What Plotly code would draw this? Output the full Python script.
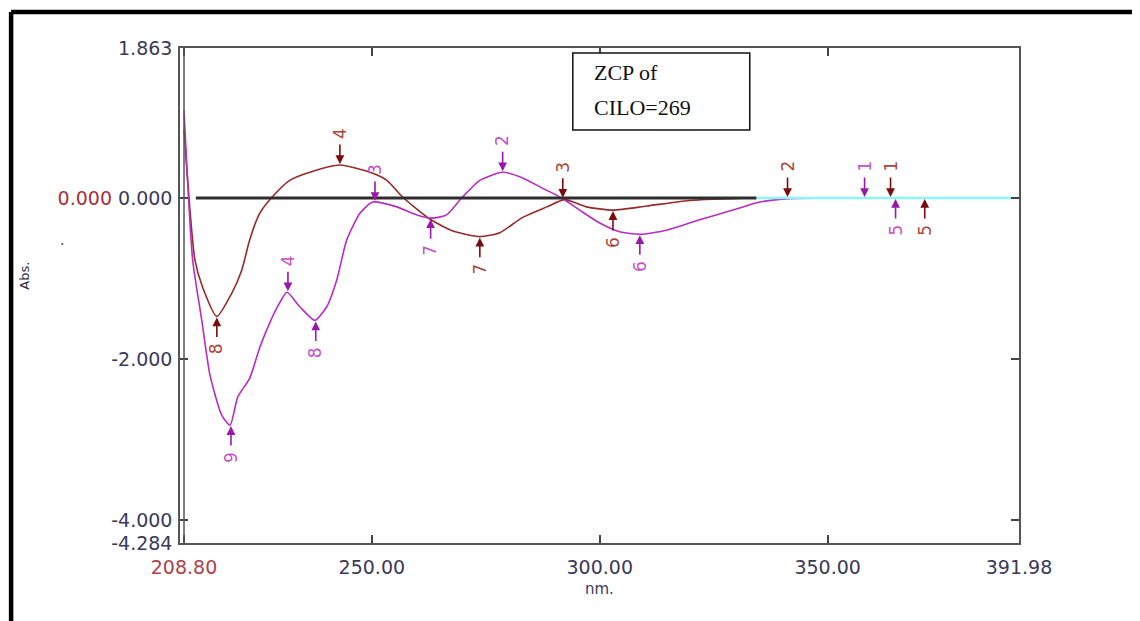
import plotly.graph_objects as go

# ---------------- data ----------------
brown_nm = [208.8, 211.2, 212.9, 216.0, 219.3, 221.5, 223.2, 225.4, 228.1, 232.0, 236.4,
            243.0, 249.6, 253.3, 256.8, 262.7, 267.8, 273.7, 278.1, 283.1, 288.4, 292.3,
            297.1, 302.9, 310.3, 319.7, 334.4]
brown_abs = [0.85, -0.77, -1.11, -1.47, -1.18, -0.89, -0.52, -0.19, 0.01, 0.22, 0.32,
             0.41, 0.32, 0.22, 0.01, -0.26, -0.41, -0.48, -0.43, -0.24, -0.11, -0.02,
             -0.11, -0.15, -0.10, -0.03, 0.0]

mag_nm = [208.8, 210.7, 212.7, 214.5, 217.1, 218.9, 220.6, 223.2, 225.4, 227.6, 229.8,
          231.4, 234.2, 237.5, 240.1, 242.3, 244.5, 247.4, 250.2, 255.5, 259.9, 263.2,
          266.4, 269.7, 273.7, 278.7, 283.1, 287.5, 291.7, 295.6, 300.0, 304.4, 308.8,
          314.7, 321.9, 329.2, 335.1, 341.0, 350.9]
mag_abs = [1.09, -0.77, -1.52, -2.20, -2.70, -2.82, -2.47, -2.24, -1.86, -1.55, -1.30,
           -1.17, -1.35, -1.52, -1.35, -1.02, -0.52, -0.19, -0.05, -0.11, -0.21, -0.25,
           -0.21, 0.0, 0.22, 0.32, 0.25, 0.12, 0.0, -0.15, -0.31, -0.42, -0.45,
           -0.40, -0.27, -0.15, -0.05, -0.01, 0.0]

zero_black_nm = [211.4, 334.4]
zero_cyan_nm = [334.4, 391.98]

# peak / valley picks: wavelength, value, label, side (+1 label above, -1 below)
brown_pk_nm = [216.0, 243.0, 273.7, 291.9, 302.9, 341.2, 363.8, 371.3]
brown_pk_abs = [-1.47, 0.41, -0.48, -0.01, -0.15, 0.0, 0.0, 0.0]
brown_pk_lab = ["8", "4", "7", "3", "6", "2", "1", "5"]
brown_pk_side = [-1, 1, -1, 1, -1, 1, 1, -1]

mag_pk_nm = [219.1, 231.6, 237.7, 250.7, 262.9, 278.7, 308.8, 358.1, 364.9]
mag_pk_abs = [-2.82, -1.17, -1.52, -0.05, -0.25, 0.32, -0.45, 0.0, 0.0]
mag_pk_lab = ["9", "4", "8", "3", "7", "2", "6", "1", "5"]
mag_pk_side = [-1, 1, -1, 1, -1, 1, -1, 1, -1]

x_ticks = [208.8, 250.0, 300.0, 350.0, 391.98]
x_ticktext = ['<span style="color:#b0404a">208.80</span>', "250.00", "300.00", "350.00", "391.98"]
y_ticks = [1.863, 0.0, -2.0, -4.0, -4.284]
y_ticktext = ["1.863", '<span style="color:#a8303c">0.000</span> 0.000', "-2.000", "-4.000", "-4.284"]

X_MIN, X_MAX = 207.92, 391.98
Y_MIN, Y_MAX = -4.284, 1.863

BROWN = "#962a2a"
MAG = "#b82cc0"
BROWN_ARROW = "#7a0c0c"
MAG_ARROW = "#9a18a8"
BROWN_TXT = "#a8463a"
MAG_TXT = "#c450c8"
TICK_TXT = "#3a3a58"

fig = go.Figure()

fig.add_trace(go.Scatter(x=brown_nm, y=brown_abs, mode="lines",
                         line=dict(color=BROWN, width=1.6, shape="spline", smoothing=0.6),
                         showlegend=False, hoverinfo="skip"))
fig.add_trace(go.Scatter(x=mag_nm, y=mag_abs, mode="lines",
                         line=dict(color=MAG, width=1.6, shape="spline", smoothing=0.6),
                         showlegend=False, hoverinfo="skip"))
fig.add_trace(go.Scatter(x=zero_black_nm, y=[0, 0], mode="lines",
                         line=dict(color="#2e2e2e", width=3),
                         showlegend=False, hoverinfo="skip"))
fig.add_trace(go.Scatter(x=zero_cyan_nm, y=[0, 0], mode="lines",
                         line=dict(color="#8cf6f6", width=2.5),
                         showlegend=False, hoverinfo="skip"))

annotations = []


def add_picks(nms, vals, labs, sides, acol, tcol):
    for xv, yv, lab, side in zip(nms, vals, labs, sides):
        annotations.append(dict(x=xv, y=yv, xref="x", yref="y", text="",
                                showarrow=True, ax=0, ay=-22 * side,
                                arrowhead=2, arrowsize=1.1, arrowwidth=1.6,
                                arrowcolor=acol, standoff=1))
        annotations.append(dict(x=xv, y=yv, xref="x", yref="y", text=lab,
                                showarrow=False, yshift=32 * side, textangle=-90,
                                xanchor="center", yanchor="middle",
                                font=dict(family="DejaVu Sans", size=17, color=tcol)))


add_picks(brown_pk_nm, brown_pk_abs, brown_pk_lab, brown_pk_side, BROWN_ARROW, BROWN_TXT)
add_picks(mag_pk_nm, mag_pk_abs, mag_pk_lab, mag_pk_side, MAG_ARROW, MAG_TXT)

# text items
annotations += [
    dict(x=300, y=-0.092, xref="x", yref="paper", text="nm.", showarrow=False,
         xanchor="center", yanchor="middle",
         font=dict(family="DejaVu Sans", size=15, color=TICK_TXT)),
    dict(x=-0.1847, y=0.54, xref="paper", yref="paper", text="Abs.", showarrow=False,
         xanchor="center", yanchor="middle",
         textangle=-90, font=dict(family="DejaVu Sans", size=13, color="#2a2a40")),
    dict(x=-0.1406, y=0.612, xref="paper", yref="paper", text=".", showarrow=False,
         xanchor="center", yanchor="middle",
         font=dict(family="DejaVu Sans", size=14, color="#333")),
    dict(x=0.4908, y=0.9495, xref="paper", yref="paper", text="ZCP of", showarrow=False,
         xanchor="left", yanchor="middle",
         font=dict(family="Liberation Serif", size=22, color="#111")),
    dict(x=0.4908, y=0.8808, xref="paper", yref="paper", text="CILO=269", showarrow=False,
         xanchor="left", yanchor="middle",
         font=dict(family="Liberation Serif", size=22, color="#111")),
]

shapes = [
    # inner left axis line (double line look)
    dict(type="line", xref="x", yref="paper", x0=208.8, x1=208.8, y0=0, y1=1,
         line=dict(color="#555", width=1.5)),
    # legend box
    dict(type="rect", xref="paper", yref="paper", x0=0.4682, x1=0.6791, y0=0.8343, y1=0.9899,
         line=dict(color="#111", width=1.5), fillcolor="white", layer="above"),
    # outer heavy frame (top and left)
    dict(type="line", xref="paper", yref="paper", x0=-0.2013, x1=1.16, y0=1.0727, y1=1.0727,
         line=dict(color="black", width=4.5)),
    dict(type="line", xref="paper", yref="paper", x0=-0.2013, x1=-0.2013, y0=1.0727, y1=-0.18,
         line=dict(color="black", width=4.5)),
]

fig.update_layout(
    width=1132, height=613, autosize=False,
    margin=dict(l=172, r=120.6, t=40, b=78),
    paper_bgcolor="white", plot_bgcolor="white",
    showlegend=False,
    annotations=annotations,
    shapes=shapes,
    xaxis=dict(range=[X_MIN, X_MAX], tickvals=x_ticks, ticktext=x_ticktext,
               ticks="inside", ticklen=8, tickcolor="#444", tickwidth=1.5,
               showline=True, linecolor="#555", linewidth=1.5, mirror="ticks",
               showgrid=False, zeroline=False, ticklabelstandoff=6,
               tickfont=dict(family="DejaVu Sans", size=19, color=TICK_TXT)),
    yaxis=dict(range=[Y_MIN, Y_MAX], tickvals=y_ticks, ticktext=y_ticktext,
               ticks="inside", ticklen=8, tickcolor="#444", tickwidth=1.5,
               showline=True, linecolor="#555", linewidth=1.5, mirror="ticks",
               showgrid=False, zeroline=False, ticklabelstandoff=2,
               tickfont=dict(family="DejaVu Sans", size=19, color=TICK_TXT)),
)

fig.write_html("out.html")
